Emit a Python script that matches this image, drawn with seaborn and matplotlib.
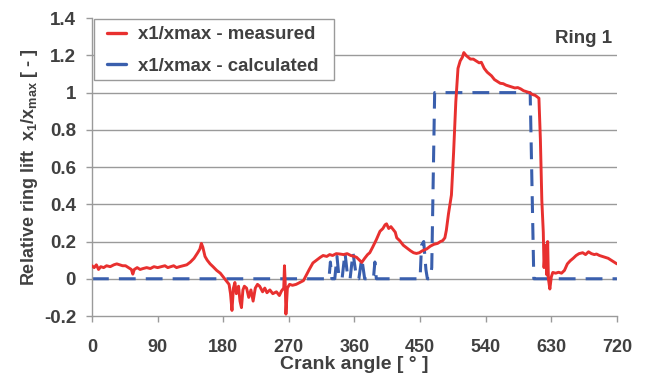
import numpy as np
import pandas as pd
import matplotlib
matplotlib.use("Agg")
import matplotlib.pyplot as plt
from matplotlib.patches import Rectangle
import seaborn as sns

# ---------------- data ----------------
meas_deg = [0, 3, 6, 9, 12, 16, 20, 25, 30, 34, 38, 42, 46, 50, 54, 56, 58, 62, 66, 70,
            75, 80, 85, 90, 95, 100, 104, 108, 112, 116, 120, 125, 130, 135, 140, 145, 148,
            150, 152, 155, 158, 162, 166, 171, 176, 180, 184, 188, 190, 192, 194, 196, 198,
            201, 203, 205, 207, 209, 212, 215, 218, 221, 224, 227, 230, 234, 237, 240, 244,
            248, 253, 257, 260, 263, 264, 265, 266, 268, 271, 275, 280, 285, 290, 294, 298,
            303, 308, 313, 317, 322, 326, 330, 335, 340, 345, 350, 355, 360, 363, 367, 370,
            374, 378, 381, 385, 390, 395, 399, 402, 404, 407, 410, 413, 416, 418, 422, 427,
            432, 437, 441, 445, 449, 453, 459, 464, 469, 474, 478, 481, 484, 486, 489, 493,
            496, 499, 502, 505, 508, 510, 513, 516, 519, 523, 527, 531, 534, 538, 542, 548,
            552, 556, 560, 564, 568, 572, 576, 580, 584, 588, 592, 596, 600, 604, 608, 613,
            615, 617, 619, 620, 622, 624, 625, 626, 628, 630, 632, 636, 640, 644, 648, 652,
            656, 660, 664, 668, 673, 677, 681, 685, 689, 692, 696, 700, 704, 708, 712, 716, 720]
meas_val = [0.07, 0.06, 0.075, 0.05, 0.065, 0.06, 0.07, 0.065, 0.075, 0.08, 0.075, 0.07, 0.07,
            0.06, 0.05, 0.025, 0.05, 0.06, 0.05, 0.055, 0.06, 0.055, 0.065, 0.06, 0.065, 0.07,
            0.06, 0.065, 0.07, 0.06, 0.065, 0.07, 0.075, 0.09, 0.11, 0.14, 0.16, 0.19, 0.17,
            0.12, 0.10, 0.08, 0.065, 0.045, 0.03, 0.01, -0.01, -0.03, -0.08, -0.17, -0.05,
            -0.02, -0.08, -0.04, -0.12, -0.155, -0.06, -0.04, -0.05, -0.10, -0.06, -0.12,
            -0.05, -0.03, -0.04, -0.07, -0.05, -0.075, -0.06, -0.08, -0.07, -0.09, -0.065,
            -0.05, 0.07, -0.02, -0.19, -0.05, -0.03, -0.035, -0.03, -0.02, -0.01, 0.02, 0.05,
            0.085, 0.10, 0.115, 0.125, 0.12, 0.13, 0.125, 0.135, 0.133, 0.13, 0.135, 0.125,
            0.12, 0.115, 0.10, 0.088, 0.11, 0.13, 0.14, 0.17, 0.21, 0.255, 0.27, 0.29, 0.295,
            0.27, 0.28, 0.265, 0.25, 0.22, 0.205, 0.18, 0.165, 0.15, 0.14, 0.136, 0.14, 0.15,
            0.16, 0.175, 0.185, 0.19, 0.20, 0.205, 0.22, 0.26, 0.35, 0.45, 0.68, 0.95, 1.13,
            1.17, 1.19, 1.215, 1.20, 1.19, 1.18, 1.18, 1.17, 1.16, 1.163, 1.13, 1.11, 1.09,
            1.07, 1.06, 1.05, 1.048, 1.04, 1.035, 1.03, 1.025, 1.027, 1.02, 1.01, 1.005, 1.0,
            0.99, 0.985, 0.97, 0.75, 0.42, 0.25, 0.06, 0.18, 0.02, 0.2, 0.0, -0.055, 0.01,
            0.034, 0.03, 0.035, 0.03, 0.045, 0.08, 0.097, 0.11, 0.125, 0.135, 0.14, 0.13,
            0.145, 0.135, 0.13, 0.133, 0.125, 0.12, 0.115, 0.11, 0.10, 0.09, 0.08]

calc_deg = [0, 325, 327, 329, 333, 336, 339, 343, 347, 351, 354, 358, 363, 366, 370, 374,
            386, 388, 390, 450, 452, 455, 458, 460, 464, 466, 470, 601, 606, 720]
calc_val = [0, 0, 0.09, 0, 0, 0.12, 0, 0, 0.14, 0, 0, 0.14, 0, 0, 0.11, 0,
            0, 0.09, 0, 0, 0.18, 0.20, 0.05, 0, 0, 0.06, 1.0, 1.0, 0, 0]

x_ticks = [0, 90, 180, 270, 360, 450, 540, 630, 720]
y_ticks = [-0.2, 0, 0.2, 0.4, 0.6, 0.8, 1, 1.2, 1.4]
y_tick_labels = ["-0.2", "0", "0.2", "0.4", "0.6", "0.8", "1", "1.2", "1.4"]

label_meas = "x1/xmax - measured"
label_calc = "x1/xmax - calculated"

# ---------------- style ----------------
sns.set_theme(style="white")
plt.rcParams["font.family"] = ["Liberation Sans", "DejaVu Sans"]
plt.rcParams["font.weight"] = "bold"
plt.rcParams["mathtext.fontset"] = "custom"
plt.rcParams["mathtext.rm"] = "Liberation Sans:bold"
plt.rcParams["mathtext.it"] = "Liberation Sans:bold"
plt.rcParams["mathtext.bf"] = "Liberation Sans:bold"

TXT = "#404040"
GRID = "#9a9a9a"
RED = "#e8302f"
BLUE = "#3a5fad"

W, H = 646, 378
fig = plt.figure(figsize=(W / 100, H / 100), dpi=100)
ax = fig.add_axes([0.1424, 0.164, 0.8126, 0.788])

df_m = pd.DataFrame({"deg": meas_deg, "val": meas_val})
df_c = pd.DataFrame({"deg": calc_deg, "val": calc_val})

sns.lineplot(data=df_m, x="deg", y="val", ax=ax, color=RED, linewidth=2.1,
             label=label_meas, sort=False, estimator=None, zorder=3)
sns.lineplot(data=df_c, x="deg", y="val", ax=ax, color=BLUE, linewidth=2.2,
             label=label_calc, sort=False, estimator=None, zorder=2,
             linestyle=(0, (5.5, 3.3)))

ax.set_xlim(0, 720)
ax.set_ylim(-0.2, 1.4)
ax.set_xticks(x_ticks)
ax.set_yticks(y_ticks)
ax.set_yticklabels(y_tick_labels)

for y in y_ticks[1:-1]:
    ax.axhline(y, color=GRID, linewidth=1.0, zorder=1)

for s in ["top", "right"]:
    ax.spines[s].set_visible(False)
ax.spines["left"].set_color(GRID)
ax.spines["bottom"].set_color(GRID)
ax.spines["left"].set_linewidth(1.0)
ax.spines["bottom"].set_linewidth(1.0)

ax.tick_params(axis="x", direction="out", length=4.5, width=1.0, color=GRID,
               pad=12, labelsize=13, labelcolor=TXT, bottom=True)
ax.tick_params(axis="y", direction="out", length=4.5, width=1.0, color=GRID,
               pad=7, labelsize=13.5, labelcolor=TXT, left=True)
for lab in ax.get_xticklabels() + ax.get_yticklabels():
    lab.set_fontweight("bold")

ax.set_xlabel("Crank angle [ ° ]", fontsize=14, fontweight="bold", color=TXT, labelpad=0)
ax.set_ylabel(r"Relative ring lift  x$_1$/x$_{max}$ [ - ]", fontsize=13,
              fontweight="bold", color=TXT, labelpad=2.5)

ax.text(0.99, 0.933, "Ring 1", transform=ax.transAxes, ha="right", va="center",
        fontsize=13.5, fontweight="bold", color=TXT)

# legend frame drawn as a box (pixel layout of the reference)
frame = Rectangle((94 / W, 1 - 80 / H), 240 / W, 61 / H, transform=fig.transFigure,
                  facecolor="white", edgecolor=GRID, linewidth=1.0, zorder=4,
                  clip_on=False)
ax.add_patch(frame)

leg = ax.legend(loc="upper left", bbox_to_anchor=(107 / W, 1 - 26 / H),
                bbox_transform=fig.transFigure, borderaxespad=0, borderpad=0,
                frameon=False, fontsize=13.4, handlelength=1.0,
                handletextpad=0.65, labelspacing=0.78)
leg.set_zorder(5)
for t in leg.get_texts():
    t.set_color(TXT)
    t.set_fontweight("bold")
for h in leg.get_lines():
    h.set_linestyle("-")
    h.set_linewidth(2.4)

fig.savefig("out.png", dpi=100)
